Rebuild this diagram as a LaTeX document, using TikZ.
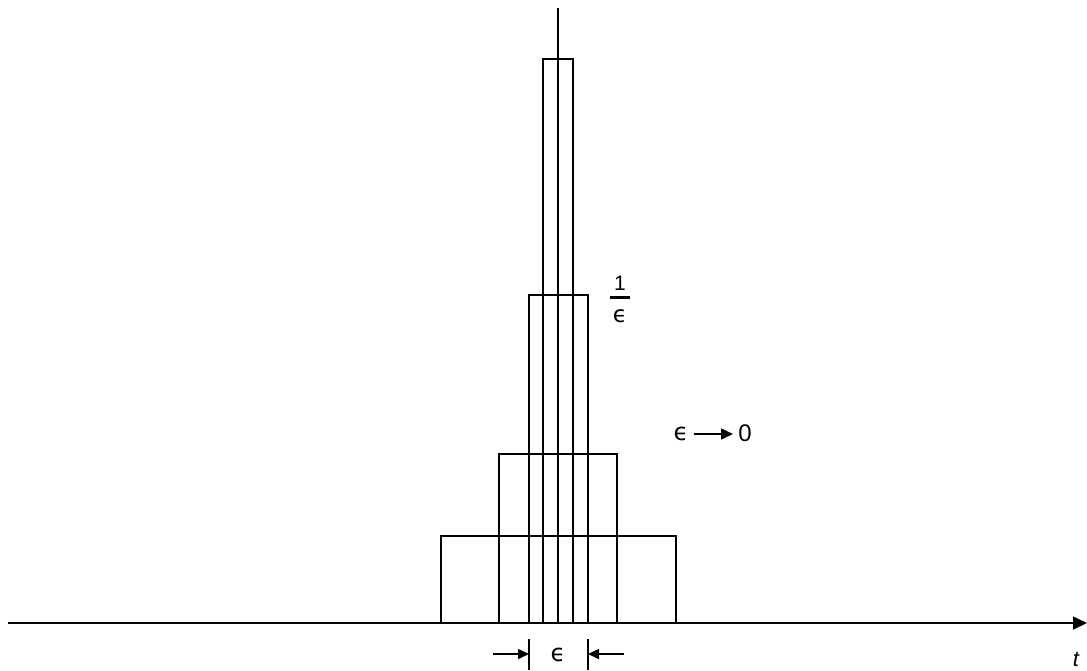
\documentclass[tikz,border=0pt]{standalone}
\usepackage{fontspec}
\setmainfont{Liberation Sans}
\newfontfamily\dv{DejaVu Sans}
\usetikzlibrary{arrows.meta}
\begin{document}
\begin{tikzpicture}[x=1pt,y=-1pt,
  ln/.style={line width=1.6pt,line cap=rect},
  arr/.style={line width=1.6pt,-{Triangle[length=12pt,width=11pt]}},
  lbl/.style={inner sep=0pt,font=\fontsize{24}{26}\selectfont}]
\useasboundingbox (0,0) rectangle (1087,670);
% axis
\coordinate (a0) at (8,623);
\coordinate (a1) at (1087,623);
\draw[line width=1.6pt,-{Triangle[length=14pt,width=13pt]}] (a0) -- (a1);
\node[lbl,font=\fontsize{22}{24}\selectfont\itshape] (t) at (1076,659) {t};
% rectangles
\draw[ln] (441,623) |- (676,536) -- (676,623);
\draw[ln] (499,623) |- (617,454) -- (617,623);
\draw[ln] (529,623) |- (588,295) -- (588,623);
\draw[ln] (543,623) |- (573,59) -- (573,623);
% centre line
\coordinate (c0) at (558,623);
\coordinate (c1) at (558,8);
\draw[ln,line cap=butt] (c0) -- (c1);
% 1/eps label
\node[inner sep=0pt,anchor=base] (num) at (620,290) {\fontsize{21}{23}\selectfont 1};
\node[inner sep=0pt,anchor=base] (den) at (620,322) {\dv\fontsize{23}{24}\selectfont ϵ};
\coordinate (fb0) at (610,296);
\coordinate (fb1) at (629.5,298.5);
\fill (fb0) rectangle (fb1);
% eps -> 0
\node[lbl] (e1) at (681,434) {\dv\fontsize{24}{26}\selectfont ϵ};
\node[lbl] (z) at (745,433) {0};
\draw[arr] (e1.east) ++(5pt,0) coordinate (e1a) -- (733,434) coordinate (e1b);
% width marker
\coordinate (m0t) at (529,639);
\coordinate (m0b) at (529,670);
\coordinate (m1t) at (588,639);
\coordinate (m1b) at (588,670);
\draw[line width=1.6pt] (m0t) -- (m0b);
\draw[line width=1.6pt] (m1t) -- (m1b);
\coordinate (l0) at (493,654);
\coordinate (r0) at (624,654);
\draw[line width=1.6pt,-{Triangle[length=11pt,width=10pt]}] (l0) -- (m0t |- l0);
\draw[line width=1.6pt,-{Triangle[length=11pt,width=10pt]}] (r0) -- (m1t |- r0);
\node[lbl] (eps) at (558,655) {\dv\fontsize{24}{26}\selectfont ϵ};
\end{tikzpicture}
\end{document}
